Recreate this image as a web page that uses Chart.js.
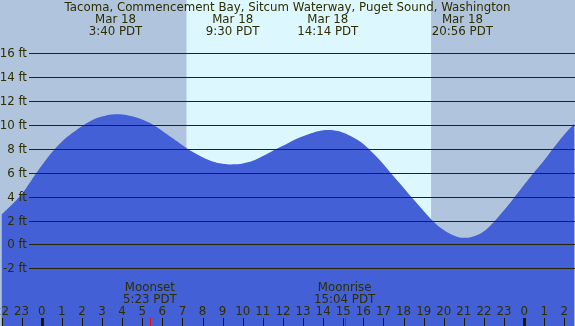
<!DOCTYPE html>
<html>
<head>
<meta charset="utf-8">
<script src="https://cdn.jsdelivr.net/npm/chart.js@4"></script>
<style>
  body { margin: 0; background: #b0c4de; }
  #wrap { width: 575px; height: 326px; position: relative; }
</style>
</head>
<body>
<div id="wrap"><canvas id="tideChart"></canvas></div>
<script>
// Tide heights (ft), every half hour from 22:00 Mar 17 (PDT)
const tideHours = [
  -2, -1.5, -1, -0.5, 0, 0.5, 1, 1.5, 2, 2.5, 3, 3.5, 4, 4.5, 5, 5.5, 6, 6.5, 7, 7.5,
  8, 8.5, 9, 9.5, 10, 10.5, 11, 11.5, 12, 12.5, 13, 13.5, 14, 14.5, 15, 15.5, 16,
  16.5, 17, 17.5, 18, 18.5, 19, 19.5, 20, 20.5, 21, 21.5, 22, 22.5, 23, 23.5, 24,
  24.5, 25, 25.5, 26, 26.5
];
const tideHeights = [
  2.5, 3.3, 4.2, 5.4, 6.6, 7.7, 8.6, 9.3, 9.9, 10.4, 10.7, 10.88, 10.88, 10.72, 10.45, 10.05, 9.5, 8.9, 8.3, 7.75,
  7.3, 6.95, 6.76, 6.7, 6.78, 7.0, 7.4, 7.85, 8.25, 8.7, 9.05, 9.35, 9.55, 9.55, 9.35, 8.95, 8.4,
  7.6, 6.7, 5.7, 4.75, 3.75, 2.8, 1.9, 1.2, 0.75, 0.55, 0.68, 1.1, 1.9, 2.85, 3.9, 5.0,
  6.05, 7.05, 8.15, 9.2, 10.1
];

const title = "Tacoma, Commencement Bay, Sitcum Waterway, Puget Sound, Washington";
const extremeHours = [3.67, 9.5, 14.23, 20.93];
const extremeDates = ["Mar 18", "Mar 18", "Mar 18", "Mar 18"];
const extremeTimes = ["3:40 PDT", "9:30 PDT", "14:14 PDT", "20:56 PDT"];

const moonHours = [5.38, 15.07];
const moonNames = ["Moonset", "Moonrise"];
const moonTimes = ["5:23 PDT", "15:04 PDT"];

const sunrise = 7.2;
const sunset = 19.37;

const heightTicks = [-2, 0, 2, 4, 6, 8, 10, 12, 14, 16];
const hourTicks = [];
for (let h = -2; h <= 26; h++) hourTicks.push(h);

const textColor = "#2e2e00";
const font = "11.8px 'DejaVu Sans', sans-serif";

const tidePlugin = {
  id: "tideDecor",
  beforeDraw(chart) {
    const { ctx, width, height } = chart;
    const x = chart.scales.x;
    ctx.save();
    ctx.fillStyle = "#b0c4de";
    ctx.fillRect(0, 0, width, height);
    ctx.fillStyle = "#ddf7ff";
    const x0 = x.getPixelForValue(sunrise);
    const x1 = x.getPixelForValue(sunset);
    ctx.fillRect(x0, 0, x1 - x0, height);
    ctx.restore();
  },
  afterDatasetsDraw(chart) {
    const { ctx, width, height } = chart;
    const x = chart.scales.x;
    const y = chart.scales.y;
    ctx.save();

    // horizontal grid lines + labels
    ctx.strokeStyle = "#262600";
    ctx.lineWidth = 1;
    ctx.font = font;
    ctx.fillStyle = textColor;
    ctx.textAlign = "right";
    ctx.textBaseline = "middle";
    heightTicks.forEach((v) => {
      const py = Math.round(y.getPixelForValue(v)) + 0.5;
      ctx.beginPath();
      ctx.moveTo(29, py);
      ctx.lineTo(width, py);
      ctx.stroke();
      ctx.fillText(v + " ft", 27, py);
    });

    // title and high/low labels
    ctx.textAlign = "center";
    ctx.fillText(title, width / 2, 8);
    extremeHours.forEach((h, i) => {
      const px = x.getPixelForValue(h);
      ctx.fillText(extremeDates[i], px, 20);
      ctx.fillText(extremeTimes[i], px, 32);
    });

    // moon labels
    moonHours.forEach((h, i) => {
      const px = x.getPixelForValue(h);
      ctx.fillText(moonNames[i], px, 288);
      ctx.fillText(moonTimes[i], px, 300);
    });

    // hour labels and ticks
    hourTicks.forEach((h) => {
      const px = x.getPixelForValue(h);
      const label = ((h % 24) + 24) % 24;
      ctx.fillStyle = textColor;
      ctx.fillText(String(label), px, 312);
      ctx.fillStyle = "#1a1a00";
      const w = label === 0 ? 3 : 1;
      ctx.fillRect(Math.round(px) - Math.floor(w / 2), 318, w, height - 318);
    });

    ctx.fillStyle = "#ff0000";
    moonHours.forEach((h) => {
      const px = x.getPixelForValue(h);
      ctx.fillRect(Math.round(px), 318, 1, height - 318);
    });
    ctx.restore();
  },
};

new Chart(document.getElementById("tideChart"), {
  type: "line",
  data: {
    datasets: [
      {
        data: tideHours.map((h, i) => ({ x: h, y: tideHeights[i] })),
        borderWidth: 0,
        borderColor: "rgba(0,0,0,0)",
        backgroundColor: "#4360d6",
        fill: "start",
        pointRadius: 0,
        tension: 0.4,
      },
    ],
  },
  options: {
    responsive: true,
    maintainAspectRatio: false,
    animation: false,
    layout: { padding: 0 },
    scales: {
      x: { type: "linear", min: -2.075, max: 26.53, display: false },
      y: { min: -6.83, max: 20.46, display: false },
    },
    plugins: {
      legend: { display: false },
      tooltip: { enabled: false },
    },
  },
  plugins: [tidePlugin],
});
</script>
</body>
</html>
